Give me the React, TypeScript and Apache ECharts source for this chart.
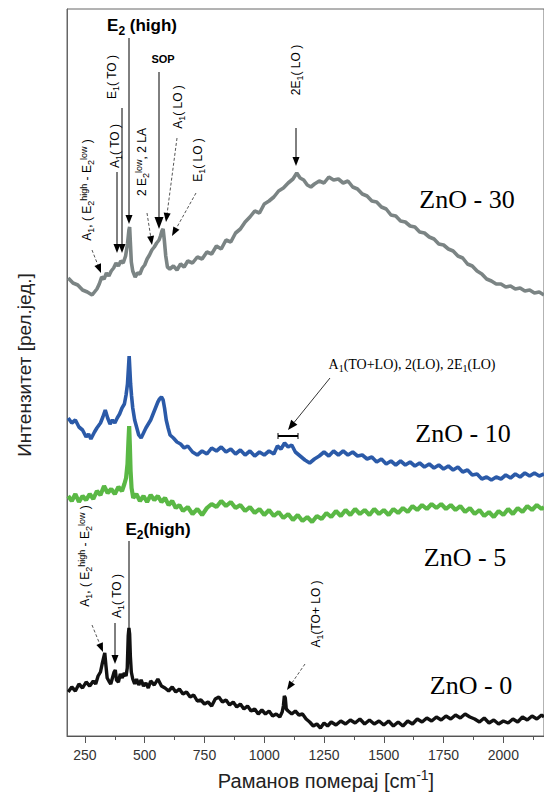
import React, { useEffect, useRef } from "react";
import * as echarts from "echarts";

// Raman shift ticks (cm^-1)
const xMajorTicks = [250, 500, 750, 1000, 1250, 1500, 1750, 2000];
const xMinorTicks = [375, 625, 875, 1125, 1375, 1625, 1875, 2125];
const seriesNames = ["ZnO - 30", "ZnO - 10", "ZnO - 5", "ZnO - 0"];
const seriesColors = ["#7b8484", "#2b5aa8", "#5ab845", "#111111"];
const seriesWidths = [3.6, 3.6, 4.2, 3.4];

// [Raman shift, relative intensity (offset spectra)]
const zno30: number[][] = [
  [180, 458], [200, 453], [220, 451], [240, 446], [260, 444], [280, 441], [300, 447], [310, 452], [320, 459],
  [330, 457], [340, 463], [350, 460], [360, 465], [370, 468], [380, 473], [390, 470], [400, 475], [410, 473],
  [420, 480], [428, 492], [434, 506], [437, 509], [440, 494], [444, 474], [450, 465], [460, 459], [470, 463],
  [480, 462], [490, 468], [500, 471], [510, 477], [520, 481], [530, 486], [540, 489], [550, 493], [560, 496],
  [566, 500], [572, 505], [577, 507], [582, 496], [588, 480], [595, 469], [605, 467], [620, 470], [635, 466],
  [650, 472], [665, 469], [680, 475], [700, 473], [720, 479], [740, 477], [760, 484], [780, 482], [800, 490],
  [820, 487], [840, 496], [860, 494], [880, 503], [900, 507], [920, 514], [940, 519], [960, 525], [980, 523],
  [1000, 532], [1020, 535], [1040, 539], [1060, 545], [1080, 548], [1100, 553], [1120, 557], [1136, 563],
  [1150, 558], [1165, 556], [1180, 551], [1195, 549], [1210, 552], [1230, 555], [1250, 553], [1270, 559],
  [1290, 556], [1310, 557], [1330, 553], [1350, 555], [1370, 549], [1390, 547], [1410, 542], [1430, 540],
  [1450, 535], [1470, 534], [1490, 529], [1510, 527], [1530, 521], [1550, 520], [1570, 515], [1590, 514],
  [1610, 510], [1630, 509], [1650, 504], [1670, 503], [1690, 499], [1710, 497], [1730, 492], [1750, 491],
  [1770, 487], [1790, 485], [1810, 480], [1830, 478], [1850, 472], [1870, 470], [1890, 465], [1910, 462],
  [1930, 457], [1950, 455], [1970, 452], [1990, 452], [2010, 449], [2030, 450], [2050, 447], [2070, 448],
  [2090, 445], [2110, 446], [2130, 443], [2150, 444], [2170, 441],
];

const zno10: number[][] = [
  [180, 318], [195, 313], [210, 316], [225, 309], [240, 306], [255, 299], [265, 302], [275, 297], [290, 304],
  [300, 308], [315, 313], [325, 319], [335, 326], [345, 318], [355, 312], [365, 316], [375, 313], [385, 318],
  [395, 322], [405, 328], [415, 332], [422, 341], [428, 352], [432, 368], [435, 380], [438, 366], [441, 352],
  [445, 340], [450, 328], [458, 316], [466, 309], [475, 301], [485, 298], [495, 303], [505, 308], [515, 312],
  [525, 316], [535, 322], [545, 328], [555, 334], [562, 337], [570, 339], [577, 336], [583, 328], [590, 316],
  [598, 308], [606, 301], [620, 298], [635, 294], [650, 292], [665, 288], [680, 290], [700, 284], [720, 281],
  [740, 285], [760, 282], [780, 288], [800, 285], [820, 289], [840, 284], [860, 287], [880, 282], [900, 286],
  [920, 281], [940, 285], [960, 280], [980, 284], [1000, 281], [1020, 285], [1040, 282], [1055, 290],
  [1070, 287], [1085, 293], [1100, 289], [1115, 291], [1130, 284], [1150, 280], [1170, 276], [1190, 273],
  [1210, 277], [1230, 280], [1250, 284], [1270, 280], [1290, 285], [1310, 281], [1330, 285], [1350, 281],
  [1370, 284], [1390, 280], [1410, 281], [1430, 277], [1450, 279], [1470, 274], [1490, 277], [1510, 272],
  [1530, 275], [1550, 271], [1570, 275], [1590, 271], [1610, 274], [1630, 270], [1650, 273], [1670, 269],
  [1690, 272], [1710, 268], [1730, 271], [1750, 267], [1770, 270], [1790, 266], [1810, 269], [1830, 264],
  [1850, 266], [1870, 261], [1890, 262], [1910, 257], [1930, 259], [1950, 256], [1970, 259], [1990, 257],
  [2010, 261], [2030, 258], [2050, 262], [2070, 259], [2090, 263], [2110, 260], [2130, 263], [2150, 260],
  [2170, 262],
];

const zno5: number[][] = [
  [180, 240], [195, 235], [210, 242], [225, 234], [240, 240], [255, 236], [270, 242], [285, 237], [300, 245],
  [315, 241], [330, 250], [345, 243], [360, 247], [375, 242], [390, 249], [405, 245], [415, 252], [422, 258],
  [428, 272], [432, 295], [435, 310], [438, 290], [441, 265], [445, 248], [452, 238], [465, 242], [480, 235],
  [495, 240], [510, 234], [525, 241], [540, 236], [555, 240], [570, 234], [585, 238], [600, 231], [615, 235],
  [630, 228], [645, 231], [660, 225], [680, 229], [700, 222], [720, 227], [740, 221], [760, 228], [780, 232],
  [800, 229], [820, 235], [840, 230], [860, 234], [880, 228], [900, 231], [920, 225], [940, 229], [960, 223],
  [980, 227], [1000, 221], [1020, 226], [1040, 220], [1060, 224], [1080, 218], [1100, 222], [1120, 216],
  [1140, 221], [1160, 215], [1180, 219], [1200, 214], [1220, 220], [1240, 217], [1260, 223], [1280, 219],
  [1300, 225], [1320, 220], [1340, 226], [1360, 221], [1380, 227], [1400, 222], [1420, 226], [1440, 221],
  [1460, 227], [1480, 222], [1500, 226], [1520, 221], [1540, 227], [1560, 223], [1580, 228], [1600, 224],
  [1620, 230], [1640, 226], [1660, 231], [1680, 227], [1700, 232], [1720, 228], [1740, 232], [1760, 227],
  [1780, 231], [1800, 226], [1820, 230], [1840, 224], [1860, 228], [1880, 222], [1900, 226], [1920, 220],
  [1940, 224], [1960, 219], [1980, 225], [2000, 221], [2020, 227], [2040, 222], [2060, 228], [2080, 224],
  [2100, 230], [2120, 226], [2140, 231], [2160, 227], [2170, 229],
];

const zno0: number[][] = [
  [180, 44], [195, 49], [210, 45], [225, 52], [240, 48], [255, 54], [270, 50], [285, 55], [295, 52], [305, 60],
  [315, 64], [322, 72], [328, 78], [333, 83], [338, 70], [343, 58], [350, 55], [358, 52], [365, 58], [372, 64],
  [377, 66], [382, 56], [390, 54], [398, 62], [406, 58], [414, 63], [422, 60], [427, 68], [431, 100], [434, 108],
  [437, 102], [440, 80], [444, 64], [450, 57], [458, 52], [466, 57], [475, 51], [485, 56], [495, 50], [505, 53],
  [515, 48], [525, 55], [540, 51], [555, 57], [570, 50], [585, 48], [600, 45], [615, 49], [630, 44], [645, 47],
  [660, 42], [675, 44], [690, 39], [705, 41], [720, 35], [735, 36], [750, 32], [765, 34], [780, 30], [795, 37],
  [810, 39], [825, 34], [840, 36], [855, 31], [870, 34], [885, 29], [900, 32], [915, 27], [930, 30], [945, 25],
  [960, 27], [975, 22], [990, 26], [1005, 22], [1020, 25], [1035, 20], [1050, 22], [1065, 19], [1075, 24],
  [1080, 30], [1084, 40], [1088, 38], [1092, 27], [1100, 25], [1115, 22], [1130, 25], [1145, 21], [1160, 22],
  [1175, 17], [1190, 14], [1205, 10], [1220, 12], [1235, 8], [1250, 13], [1265, 10], [1280, 14], [1300, 11],
  [1320, 15], [1340, 12], [1360, 16], [1380, 13], [1400, 17], [1420, 12], [1440, 16], [1460, 12], [1480, 15],
  [1500, 11], [1520, 15], [1540, 10], [1560, 14], [1580, 10], [1600, 15], [1620, 12], [1640, 17], [1660, 14],
  [1680, 18], [1700, 15], [1720, 19], [1740, 16], [1760, 20], [1780, 17], [1800, 21], [1820, 18], [1840, 22],
  [1860, 19], [1880, 17], [1900, 14], [1920, 18], [1940, 13], [1960, 16], [1980, 12], [2000, 15], [2020, 13],
  [2040, 17], [2060, 14], [2080, 19], [2100, 16], [2120, 20], [2140, 17], [2160, 21], [2170, 19],
];

const seriesData = [zno30, zno10, zno5, zno0];

const SANS = "'Liberation Sans', Arial, sans-serif";
const SERIF = "'Liberation Serif', 'Times New Roman', serif";

const rich = (base: number) => ({
  sub: { fontSize: Math.round(base * 0.72), lineHeight: Math.round(base * 0.72), verticalAlign: "bottom", fontFamily: SANS },
  sup: { fontSize: Math.round(base * 0.72), lineHeight: Math.round(base * 0.72), verticalAlign: "top", fontFamily: SANS },
  bsub: { fontSize: Math.round(base * 0.72), lineHeight: Math.round(base * 0.72), verticalAlign: "bottom", fontWeight: "bold", fontFamily: SANS },
  ssub: { fontSize: Math.round(base * 0.72), lineHeight: Math.round(base * 0.72), verticalAlign: "bottom", fontFamily: SERIF },
});

function txt(x: number, y: number, text: string, o: any = {}) {
  const fs = o.fontSize ?? 12;
  return {
    type: "text",
    x,
    y,
    rotation: o.vertical ? Math.PI / 2 : 0,
    silent: true,
    z: 100,
    style: {
      text,
      fontSize: fs,
      lineHeight: Math.round(fs * 1.35),
      fontFamily: o.fontFamily ?? SANS,
      fontWeight: o.fontWeight ?? "normal",
      fill: o.fill ?? "#000",
      align: "center",
      verticalAlign: "middle",
      rich: rich(fs),
    },
  };
}

function arrow(x1: number, y1: number, x2: number, y2: number, o: any = {}) {
  const head = o.head ?? 9;
  const w = o.w ?? 3.5;
  const dx = x2 - x1;
  const dy = y2 - y1;
  const L = Math.hypot(dx, dy);
  const ux = dx / L;
  const uy = dy / L;
  const bx = x2 - ux * head;
  const by = y2 - uy * head;
  const px = -uy;
  const py = ux;
  return [
    {
      type: "line",
      silent: true,
      z: 100,
      shape: { x1, y1, x2: bx, y2: by },
      style: { stroke: o.dashed ? "#555" : "#000", lineWidth: o.lineWidth ?? 1, lineDash: o.dashed ? [3, 2] : null },
    },
    {
      type: "polygon",
      silent: true,
      z: 100,
      shape: { points: [[x2, y2], [bx + px * w, by + py * w], [bx - px * w, by - py * w]] },
      style: { fill: "#000" },
    },
  ];
}

function line(x1: number, y1: number, x2: number, y2: number, lw = 1) {
  return { type: "line", silent: true, z: 100, shape: { x1, y1, x2, y2 }, style: { stroke: "#000", lineWidth: lw } };
}

export default function App() {
  const ref = useRef<HTMLDivElement>(null);
  useEffect(() => {
    if (!ref.current) return;
    const chart = echarts.init(ref.current, null, { renderer: "svg" });
    const graphic: any[] = [
      // axis titles
      txt(24, 365, "Интензитет [рел.јед.]", { vertical: true, fontSize: 19, fill: "#222" }),
      txt(326, 781, "Раманов померај [cm{sup|-1}]", { fontSize: 20, fill: "#222" }),
      // ZnO - 30 annotations
      txt(142, 25, "E{bsub|2} (high)", { fontSize: 17, fontWeight: "bold" }),
      ...arrow(129, 38, 129, 224),
      txt(112, 77, "E{sub|1}( TO )", { vertical: true, fontSize: 12 }),
      ...arrow(122, 108, 122, 253),
      txt(115, 146, "A{sub|1}( TO )", { vertical: true, fontSize: 12 }),
      ...arrow(117, 172, 117, 253),
      txt(87, 190, "A{sub|1}, ( E{sub|2}{sup|high} - E{sub|2}{sup|low} )", { vertical: true, fontSize: 12 }),
      ...arrow(92, 250, 101, 273, { dashed: true }),
      txt(142, 162, "2 E{sub|2}{sup|low}, 2 LA", { vertical: true, fontSize: 12 }),
      ...arrow(147, 213, 152, 245, { dashed: true }),
      txt(163, 59, "SOP", { fontSize: 11, fontWeight: "bold" }),
      ...arrow(159, 72, 159, 229, { head: 12, w: 4.5 }),
      txt(178, 107, "A{sub|1}( LO )", { vertical: true, fontSize: 12 }),
      ...arrow(177, 138, 166, 222, { dashed: true }),
      txt(198, 160, "E{sub|1}( LO )", { vertical: true, fontSize: 12 }),
      ...arrow(196, 193, 172, 236, { dashed: true }),
      txt(296, 70, "2E{sub|1}( LO )", { vertical: true, fontSize: 12 }),
      ...arrow(296, 128, 296, 166),
      // ZnO - 10 annotation
      txt(412, 364, "A{ssub|1}(TO+LO), 2(LO), 2E{ssub|1}(LO)", { fontSize: 14, fontFamily: SERIF }),
      ...arrow(330, 378, 288, 430, { lineWidth: 0.8, head: 10, w: 4 }),
      line(278, 436, 298, 436, 2),
      line(278, 433, 278, 439, 1),
      line(298, 433, 298, 439, 1),
      // ZnO - 0 annotations
      txt(158, 529, "E{bsub|2}(high)", { fontSize: 17, fontWeight: "bold" }),
      line(129, 541, 129, 630, 1),
      txt(117, 596, "A{sub|1}( TO )", { vertical: true, fontSize: 12 }),
      ...arrow(115, 623, 115, 664),
      txt(85, 556, "A{sub|1}, ( E{sub|2}{sup|high} - E{sub|2}{sup|low} )", { vertical: true, fontSize: 12 }),
      ...arrow(92, 625, 103, 652, { dashed: true }),
      txt(316, 614, "A{sub|1}(TO+ LO )", { vertical: true, fontSize: 12 }),
      ...arrow(305, 664, 287, 690, { dashed: true }),
      // sample labels
      txt(467, 199, seriesNames[0], { fontSize: 26, fontFamily: SERIF }),
      txt(463, 433, seriesNames[1], { fontSize: 26, fontFamily: SERIF }),
      txt(465, 557, seriesNames[2], { fontSize: 26, fontFamily: SERIF }),
      txt(471, 685, seriesNames[3], { fontSize: 26, fontFamily: SERIF }),
    ];

    chart.setOption({
      animation: false,
      backgroundColor: "#fff",
      grid: { left: 67, top: 9, right: 0, bottom: 60, show: true, borderColor: "#666", borderWidth: 1 },
      xAxis: [
        {
          type: "value",
          min: 175,
          max: 2170,
          position: "bottom",
          axisLine: { show: true, onZero: false, lineStyle: { color: "#555" } },
          axisTick: { show: true, length: 7, customValues: xMajorTicks, lineStyle: { color: "#555" } },
          axisLabel: {
            show: true,
            customValues: xMajorTicks,
            formatter: (v: number) => String(v),
            margin: 12,
            fontSize: 14,
            color: "#333",
            fontFamily: "'Liberation Sans Narrow', 'Liberation Sans', sans-serif",
          },
          splitLine: { show: false },
        },
        {
          type: "value",
          min: 175,
          max: 2170,
          position: "bottom",
          axisLine: { show: false, onZero: false },
          axisTick: { show: true, length: 4, customValues: xMinorTicks, lineStyle: { color: "#555" } },
          axisLabel: { show: false },
          splitLine: { show: false },
        },
      ],
      yAxis: {
        type: "value",
        min: 0,
        max: 727,
        axisLine: { show: true, lineStyle: { color: "#666" } },
        axisTick: { show: false },
        axisLabel: { show: false },
        splitLine: { show: false },
      },
      series: seriesData.map((d, i) => ({
        name: seriesNames[i],
        type: "line",
        data: d,
        showSymbol: false,
        symbol: "none",
        lineStyle: { color: seriesColors[i], width: seriesWidths[i], join: "bevel" },
        z: 2 + i,
      })),
      graphic,
    });
    return () => chart.dispose();
  }, []);
  return <div ref={ref} style={{ width: 544, height: 796, position: "absolute", left: 0, top: 0 }} />;
}
